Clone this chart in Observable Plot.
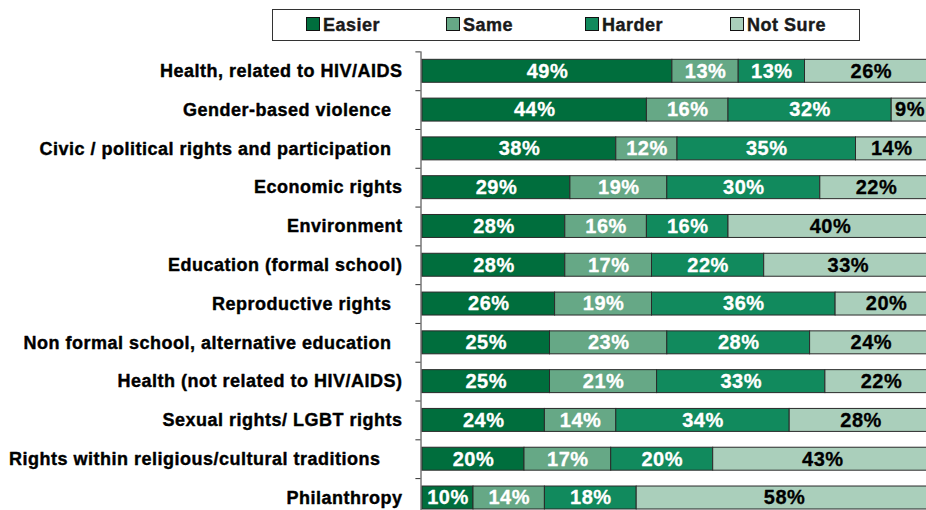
<!DOCTYPE html>
<html>
<head>
<meta charset="utf-8">
<script src="https://cdn.jsdelivr.net/npm/d3@7"></script>
<script src="https://cdn.jsdelivr.net/npm/@observablehq/plot@0.6"></script>
<style>
  html, body { margin: 0; padding: 0; background: #fff; }
  body { width: 926px; height: 510px; overflow: hidden; font-family: "Liberation Sans", Arial, sans-serif; }
  #head { position: relative; height: 48px; }
  #legend { position: absolute; left: 272px; top: 9px; width: 586px; height: 30px; border: 1px solid #333; box-sizing: content-box; }
  .item { position: absolute; top: 0; height: 30px; line-height: 30px; font-size: 18px; font-weight: bold; letter-spacing: 0.5px; color: #1a1a1a; white-space: nowrap; -webkit-text-stroke: 0.4px #1a1a1a; }
  .sw { display: inline-block; width: 12px; height: 12px; border: 1px solid #111; vertical-align: top; margin-top: 7px; margin-right: 3px; -webkit-text-stroke: 0; }
  svg text { white-space: pre; letter-spacing: 0.5px; }
</style>
</head>
<body>
<div id="head"><div id="legend"></div></div>
<div id="chart"></div>
<script>
const categories = [
  "Health, related to HIV/AIDS",
  "Gender-based violence  ",
  "Civic / political rights and participation  ",
  "Economic rights",
  "Environment",
  "Education (formal school)",
  "Reproductive rights  ",
  "Non formal school, alternative education  ",
  "Health (not related to HIV/AIDS)",
  "Sexual rights/ LGBT rights",
  "Rights within religious/cultural traditions    ",
  "Philanthropy"
];
const seriesNames = ["Easier", "Same", "Harder", "Not Sure"];
const seriesColors = ["#006e3d", "#66a886", "#118a5d", "#aacfbb"];
const easier  = [49, 44, 38, 29, 28, 28, 26, 25, 25, 24, 20, 10];
const same    = [13, 16, 12, 19, 16, 17, 19, 23, 21, 14, 17, 14];
const harder  = [13, 32, 35, 30, 16, 22, 36, 28, 33, 34, 20, 18];
const notSure = [26,  9, 14, 22, 40, 33, 20, 24, 22, 28, 43, 58];

const seriesValues = [easier, same, harder, notSure];

// legend
const legend = document.getElementById("legend");
const legendLeft = [33, 173, 312, 457];
seriesNames.forEach((s, k) => {
  const it = document.createElement("div");
  it.className = "item";
  it.style.left = legendLeft[k] + "px";
  const sw = document.createElement("span");
  sw.className = "sw";
  sw.style.background = seriesColors[k];
  it.appendChild(sw);
  it.appendChild(document.createTextNode(s));
  legend.appendChild(it);
});

// stacked segments
const segments = [];
categories.forEach((c, i) => {
  let acc = 0;
  seriesNames.forEach((s, k) => {
    const v = seriesValues[k][i];
    segments.push({i, series: s, value: v, x1: acc, x2: acc + v});
    acc += v;
  });
});
const boundaries = d3.range(categories.length + 1).map(i => i - 0.5);
const half = 0.296;
// keep labels inside the visible area (right edge of the page)
const maxLabelCenter = 95.6;
const labelX = d => Math.min((d.x1 + d.x2) / 2, maxLabelCenter);

const chart = Plot.plot({
  width: 926,
  height: 462,
  margin: 0,
  x: {domain: [0, 100], range: [422, 932], axis: null},
  y: {domain: [0, categories.length - 1], range: [22.8, 449.5], axis: null},
  color: {domain: seriesNames, range: seriesColors},
  style: {fontFamily: "'Liberation Sans', Arial, sans-serif", background: "#fff", overflow: "hidden"},
  marks: [
    Plot.rect(segments, {x1: "x1", x2: "x2", y1: d => d.i - half, y2: d => d.i + half, fill: "series", stroke: "#2a2a2a", strokeWidth: 1}),
    Plot.text(segments.filter(d => d.series !== "Not Sure"), {x: labelX, y: "i", text: d => d.value + "%", fill: "#fff", stroke: "#fff", strokeWidth: 0.3, fontSize: 20, fontWeight: "bold"}),
    Plot.text(segments.filter(d => d.series === "Not Sure"), {x: labelX, y: "i", text: d => d.value + "%", fill: "#000", stroke: "#000", strokeWidth: 0.3, fontSize: 20, fontWeight: "bold"}),
    Plot.text(categories, {x: 0, y: (d, i) => i, text: d => d, textAnchor: "end", dx: -20, fontSize: 18, fontWeight: "bold", fill: "#000", stroke: "#000", strokeWidth: 0.4}),
    Plot.ruleX([0], {y1: -0.5, y2: categories.length, stroke: "#333", dx: -1.5}),
    Plot.ruleY(boundaries, {x1: -1, x2: 0, dx: -1.5, stroke: "#333"})
  ]
});
document.getElementById("chart").appendChild(chart);
</script>
</body>
</html>
